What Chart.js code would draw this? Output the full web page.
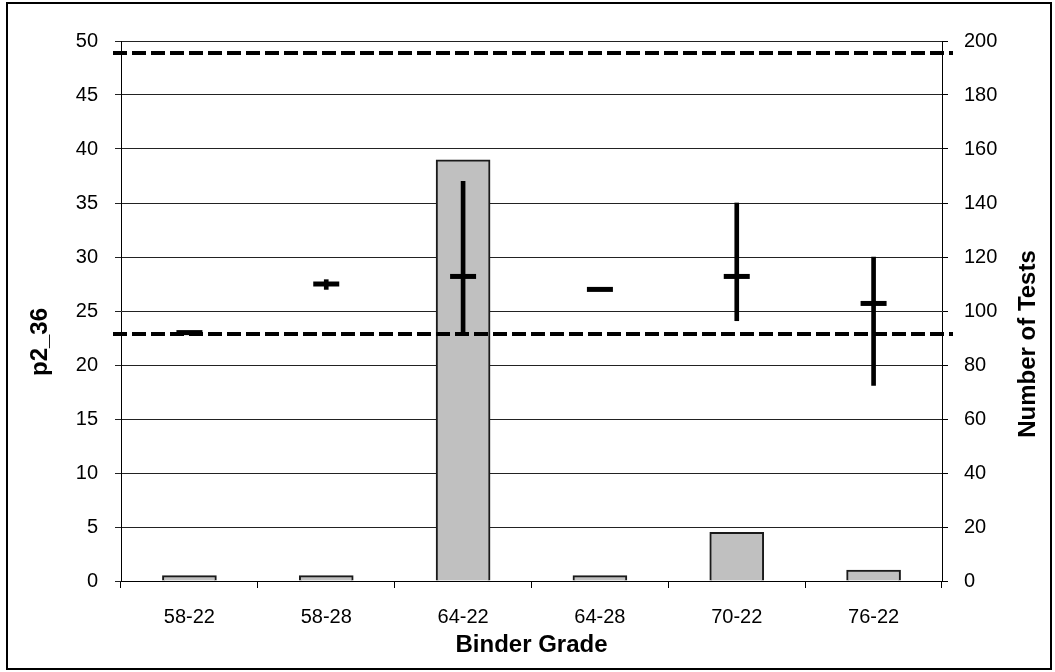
<!DOCTYPE html>
<html>
<head>
<meta charset="utf-8">
<script src="https://cdn.jsdelivr.net/npm/chart.js@4"></script>
<style>
  body { margin: 0; background: #fff; }
  #wrap { width: 1055px; height: 672px; }
</style>
</head>
<body>
<div id="wrap"><canvas id="binderChart" width="1055" height="672"></canvas></div>
<script>
const grades = ["58-22", "58-28", "64-22", "64-28", "70-22", "76-22"];
const testCounts = [2, 2, 156, 2, 18, 4];
const rangeMin = [22.9, 27.0, 22.9, 26.95, 24.1, 18.1];
const rangeMax = [23.1, 27.9, 37.0, 27.05, 35.0, 30.0];
const meanVals = [23.0, 27.5, 28.2, 27.0, 28.2, 25.7];
const limitLines = [48.9, 22.9];
const leftTicks = [0, 50, 5];
const rightTicks = [0, 200, 20];

const FONT = "'Liberation Sans', Arial, sans-serif";

// white page + outer frame
const framePlugin = {
  id: "frame",
  beforeDraw(chart) {
    const c = chart.ctx;
    c.save();
    c.fillStyle = "#fff";
    c.fillRect(0, 0, chart.width, chart.height);
    c.strokeStyle = "#000";
    c.lineWidth = 2;
    c.strokeRect(7, 3, 1044, 666);
    c.restore();
  },
};

// dashed limit lines, drawn on the left axis scale
const limitPlugin = {
  id: "limits",
  afterDatasetsDraw(chart) {
    const c = chart.ctx;
    const y = chart.scales.y;
    const area = chart.chartArea;
    c.save();
    c.strokeStyle = "#000";
    c.lineWidth = 4;
    c.setLineDash([14, 5]);
    limitLines.forEach((v) => {
      const py = Math.round(y.getPixelForValue(v));
      c.beginPath();
      c.moveTo(area.left - 8, py);
      c.lineTo(area.right + 11, py);
      c.stroke();
    });
    c.restore();
  },
};

// rotated axis titles
const titlePlugin = {
  id: "yTitles",
  afterDraw(chart) {
    const c = chart.ctx;
    c.save();
    c.fillStyle = "#000";
    c.font = "bold 24px " + FONT;
    c.textAlign = "center";
    c.textBaseline = "middle";
    [["p2_36", 40, 342], ["Number of Tests", 1028, 344]].forEach(([t, x, y]) => {
      c.save();
      c.translate(x, y);
      c.rotate(-Math.PI / 2);
      c.fillText(t, 0, 0);
      c.restore();
    });
    c.restore();
  },
};

const ctx = document.getElementById("binderChart").getContext("2d");
new Chart(ctx, {
  data: {
    labels: grades,
    datasets: [
      {
        type: "line",
        label: "Mean",
        data: meanVals,
        yAxisID: "y",
        showLine: false,
        pointStyle: "line",
        pointRadius: 13,
        pointBorderWidth: 5,
        borderColor: "#000",
        backgroundColor: "#000",
        order: 1,
      },
      {
        type: "bar",
        label: "Range",
        data: rangeMin.map((m, i) => [m, rangeMax[i]]),
        yAxisID: "y",
        grouped: false,
        barThickness: 4,
        backgroundColor: "#000",
        borderWidth: 0,
        order: 2,
      },
      {
        type: "bar",
        label: "Number of Tests",
        data: testCounts,
        yAxisID: "y2",
        grouped: false,
        barThickness: 54,
        backgroundColor: "#c0c0c0",
        borderColor: "#1a1a1a",
        borderWidth: 2,
        order: 3,
      },
    ],
  },
  plugins: [framePlugin, limitPlugin, titlePlugin],
  options: {
    responsive: false,
    animation: false,
    layout: { padding: { top: 41, left: 0, right: 0, bottom: 0 } },
    plugins: {
      legend: { display: false },
      tooltip: { enabled: false },
    },
    scales: {
      x: {
        offset: true,
        grid: {
          offset: true,
          drawOnChartArea: false,
          tickLength: 7,
          color: "#000",
        },
        border: { color: "#000", width: 1 },
        ticks: {
          color: "#000",
          font: { family: FONT, size: 20 },
          padding: 17,
          maxRotation: 0,
        },
        title: {
          display: true,
          text: "Binder Grade",
          color: "#000",
          font: { family: FONT, size: 24, weight: "bold" },
          padding: { top: 0, bottom: 12 },
        },
        afterFit(s) { s.height = 91; },
      },
      y: {
        position: "left",
        min: leftTicks[0],
        max: leftTicks[1],
        grid: { color: "#222", lineWidth: 1, tickLength: 6 },
        border: { color: "#000", width: 1 },
        ticks: {
          stepSize: leftTicks[2],
          color: "#000",
          font: { family: FONT, size: 20 },
          padding: 17,
        },
        afterFit(s) { s.width = 121; },
      },
      y2: {
        position: "right",
        min: rightTicks[0],
        max: rightTicks[1],
        grid: { drawOnChartArea: false, color: "#000", tickLength: 6 },
        border: { color: "#000", width: 1 },
        ticks: {
          stepSize: rightTicks[2],
          color: "#000",
          font: { family: FONT, size: 20 },
          padding: 16,
        },
        afterFit(s) { s.width = 113; },
      },
    },
  },
});
</script>
</body>
</html>
